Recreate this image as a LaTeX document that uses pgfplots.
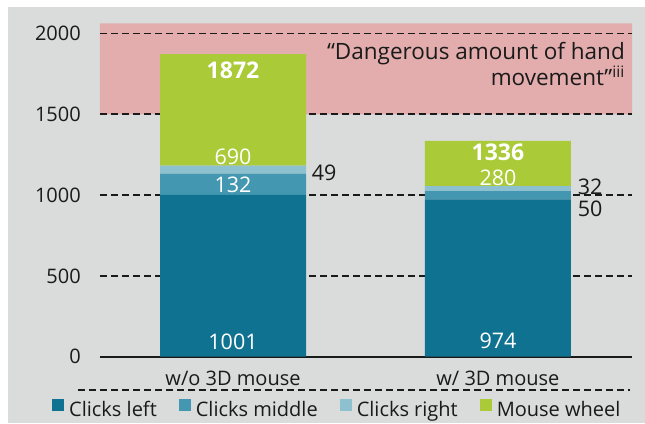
\documentclass[border=0pt]{standalone}
\usepackage{fontspec}
\setmainfont{Open Sans}
\usepackage{pgfplots}
\pgfplotsset{compat=1.18}
\definecolor{bg}{HTML}{D9DCDB}
\definecolor{cleft}{HTML}{0F7291}
\definecolor{cmid}{HTML}{4397B0}
\definecolor{cright}{HTML}{8DC1CF}
\definecolor{cwheel}{HTML}{AACA38}
\definecolor{redband}{HTML}{E3ADAE}
\definecolor{txt}{HTML}{1A1A1A}
\newcommand{\fs}{\fontsize{20bp}{24bp}\selectfont}
\newcommand{\fv}{\fontsize{21.5bp}{24bp}\selectfont}
\newcommand{\fb}{\fontsize{23bp}{26bp}\selectfont\bfseries}
\newcommand{\fq}{\fontsize{22.5bp}{26bp}\selectfont}
\pgfplotsset{samegeom/.style={scale only axis, width=532bp, height=333.4bp,
  xmin=-0.502, xmax=1.506, ymin=0, ymax=2063}}
\begin{document}
\fs
\begin{tikzpicture}[x=1bp,y=1bp]
\begin{scope}[shift={(-100,-66.3)}]
\useasboundingbox (0,0) rectangle (645,423);
\fill[white] (0,0) rectangle (645,423);
\fill[bg] (8,0) rectangle (645,416);
\end{scope}
% background axis: red band + grid + y labels
\begin{axis}[
  samegeom,
  axis on top,
  axis line style={draw=none}, tick style={draw=none},
  xtick=\empty,
  ytick={0,500,1000,1500,2000},
  ymajorgrids,
  grid style={txt, line width=1.6bp, dash pattern=on 7bp off 4bp},
  yticklabel style={/pgf/number format/assume math mode=true,
    /pgf/number format/1000 sep={}, inner sep=0pt, anchor=east,
    xshift=-19bp, text=txt, font=\fs},
]
\addplot[fill=redband, draw=none] coordinates {(-0.502,1500) (1.506,1500) (1.506,2063) (-0.502,2063) (-0.502,1500)};
\end{axis}
% bars axis
\begin{axis}[
  samegeom,
  ybar stacked, bar width=146bp,
  axis x line=bottom, axis y line=none,
  x axis line style={-, line width=2bp, color=txt},
  ytick=\empty,
  xtick={0,1}, xticklabels={w/o 3D mouse, w/ 3D mouse},
  tick style={draw=none},
  xticklabel style={inner sep=0pt, anchor=base, yshift=-26.5bp, text=txt, font=\fs},
  legend columns=4,
  legend style={at={(-0.0902,-0.1569)}, anchor=west, draw=none, fill=none,
    inner sep=0pt, nodes={inner sep=0pt, text=txt}, font=\fs,
    /tikz/every odd column/.append style={column sep=5bp},
    /tikz/every even column/.append style={column sep=22bp}},
  legend image code/.code={\fill[#1] (0bp,-1bp) rectangle (12bp,11bp);},
]
\addplot[fill=cleft, draw=none] coordinates {(0,1001) (1,974)};
\addplot[fill=cmid, draw=none] coordinates {(0,132) (1,50)};
\addplot[fill=cright, draw=none] coordinates {(0,49) (1,32)};
\addplot[fill=cwheel, draw=none] coordinates {(0,690) (1,280)};
\legend{Clicks left, Clicks middle, Clicks right, Mouse wheel}
\end{axis}
% value labels axis
\begin{axis}[samegeom, hide axis]
\node[white, font=\fv] at (axis cs:0,93) {1001};
\node[white, font=\fv] at (axis cs:0,1062) {132};
\node[white, font=\fv] at (axis cs:0,1234) {690};
\node[white, font=\fb] at (axis cs:0,1772) {1872};
\node[txt, font=\fv, anchor=west, inner sep=0pt] at (axis cs:0.297,1140) {49};
\node[white, font=\fv] at (axis cs:1,98) {974};
\node[txt, font=\fv, anchor=west, inner sep=0pt] at (axis cs:1.301,914) {50};
\node[txt, font=\fv, anchor=west, inner sep=0pt] at (axis cs:1.301,1052) {32};
\node[white, font=\fv] at (axis cs:1,1104) {280};
\node[white, font=\fb] at (axis cs:1,1267) {1336};
\end{axis}
\begin{scope}[shift={(-100,-66.3)}]
\node[txt, font=\fq, anchor=base east, inner sep=0pt] at (625,363.7) {“Dangerous amount of hand};
\node[txt, font=\fq, anchor=base east, inner sep=0pt] at (625,338) {movement”\textsuperscript{iii}};
\draw[txt, line width=1.6bp, dash pattern=on 7bp off 4bp] (78,33) -- (630,33);
\end{scope}
\end{tikzpicture}
\end{document}
